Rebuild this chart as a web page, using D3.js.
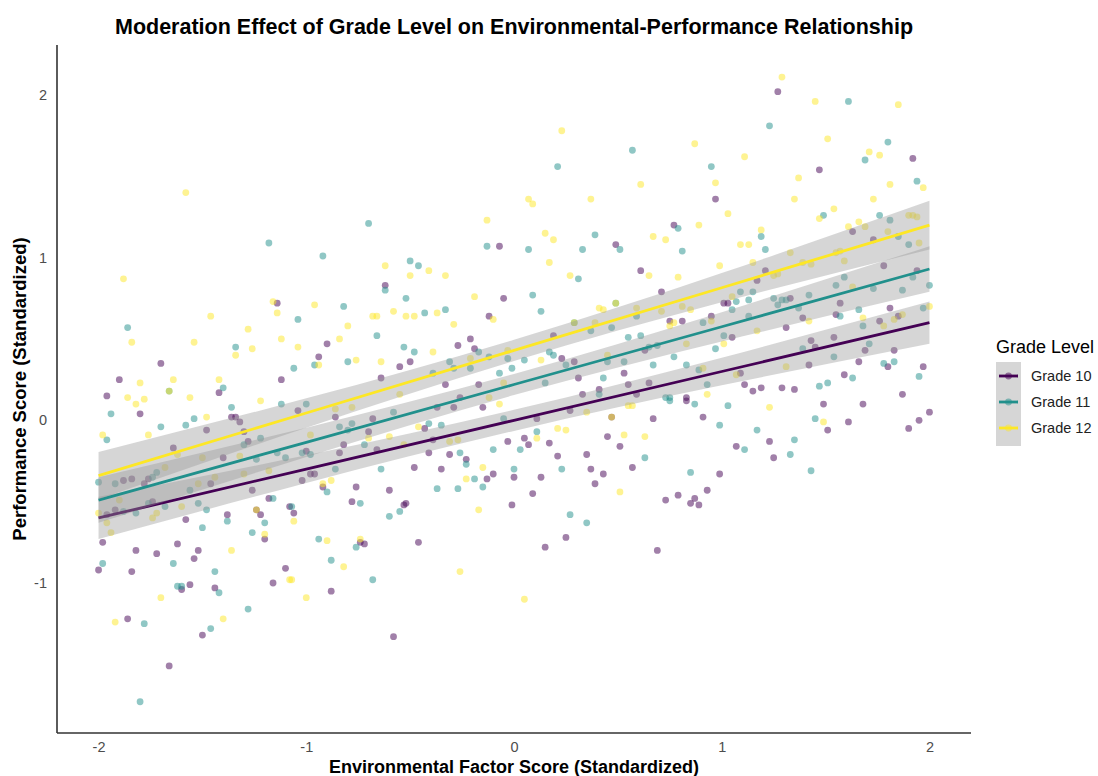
<!DOCTYPE html>
<html>
<head>
<meta charset="utf-8">
<script src="https://cdn.jsdelivr.net/npm/d3@7"></script>
<style>
    body { margin: 0; background: #ffffff; }
    svg { display: block; font-family: "Liberation Sans", Arial, sans-serif; }
</style>
</head>
<body>
<svg id="chart" width="1098" height="776"></svg>
<script>
// Groups
const grades = ["Grade 10", "Grade 11", "Grade 12"];
const gradeColors = ["#440154", "#21908C", "#FDE725"];

// Tick labels
const xTicks = [-2, -1, 0, 1, 2];
const yTicks = [-1, 0, 1, 2];

// Points [environmental, performance]
const grade10Points = [
    [-1.14, 0.72], [-1.70, 0.35], [-1.90, 0.25], [-1.12, 0.25], [-1.42, 0.17], [-1.96, 0.15],
    [-1.80, 0.04], [-1.36, 0.02], [-1.34, 0.02], [-1.32, -0.01], [-1.48, -0.06], [-1.30, -0.07],
    [-1.28, -0.13], [-1.64, -0.17], [-1.40, -0.23], [-1.88, -0.37], [-1.84, -0.36], [-1.78, -0.39],
    [-1.76, -0.36], [-1.46, -0.39], [-1.26, -0.43], [-1.74, -0.50], [-1.92, -0.55], [-1.96, -0.58],
    [-1.58, -0.61], [-1.38, -0.58], [-1.24, -0.55], [-1.22, -0.58], [-1.18, -0.48], [-1.08, -0.53],
    [-1.20, -0.73], [-1.98, -0.75], [-1.62, -0.76], [-1.82, -0.80], [-1.72, -0.82], [-1.52, -0.80],
    [-1.54, -0.85], [-2.00, -0.92], [-1.84, -0.93], [-1.60, -1.04], [-1.56, -1.01], [-1.44, -1.03],
    [-1.10, -0.91], [-1.16, -1.00], [-1.86, -1.22], [-1.50, -1.32], [-1.66, -1.51],
    [-0.07, 1.07], [-0.62, 0.83], [-0.05, 0.75], [-0.12, 0.64], [-0.21, 0.50], [-0.90, 0.47],
    [-0.27, 0.46], [-0.19, 0.44], [-0.94, 0.39], [-0.55, 0.33], [-0.50, 0.36], [-0.64, 0.26],
    [-0.33, 0.22], [-0.17, 0.22], [-0.26, 0.14],
    [-1.04, 0.06], [-0.86, 0.02], [-0.70, -0.07], [-0.68, 0.01], [-0.37, 0.08], [-0.29, 0.08],
    [-0.15, 0.08], [-0.43, -0.05], [-0.82, -0.15], [-0.84, -0.20], [-0.66, -0.18], [-0.39, -0.12],
    [-0.03, -0.13], [-1.00, -0.19], [-0.41, -0.20], [-0.31, -0.21], [-0.23, -0.24], [-0.48, -0.29],
    [-0.35, -0.30], [-0.98, -0.33], [-0.96, -0.33], [-1.02, -0.37], [-0.92, -0.41], [-0.76, -0.41],
    [-0.60, -0.43], [-0.13, -0.36], [-0.10, -0.33], [0.00, -0.35], [-0.78, -0.50], [-0.01, -0.52],
    [-0.53, -0.52], [-0.52, -0.51], [-1.06, -0.57], [-0.74, -0.75], [-0.72, -0.76], [-0.46, -0.75],
    [-0.88, -1.05], [-0.58, -1.33],
    [0.97, 1.36], [0.77, 1.20], [0.49, 1.08], [0.61, 0.92], [0.71, 0.79], [1.01, 0.72],
    [1.03, 0.72], [0.19, 0.52], [0.75, 0.61], [0.81, 0.61], [0.95, 0.64], [1.05, 0.51],
    [0.23, 0.38], [0.29, 0.36], [0.63, 0.43], [1.09, 0.29], [1.11, 0.22], [0.31, 0.26],
    [0.53, 0.29], [0.55, 0.22], [0.65, 0.23], [0.33, 0.16], [0.41, 0.19], [0.59, 0.16], [0.83, 0.14],
    [0.27, 0.06], [0.11, 0.01], [0.47, 0.02], [0.67, 0.01], [0.91, 0.02], [0.05, -0.11],
    [0.07, -0.15], [0.17, -0.14], [0.45, -0.10], [0.51, -0.16], [1.07, -0.16], [0.21, -0.22],
    [0.35, -0.21], [0.37, -0.30], [0.43, -0.33], [0.39, -0.39], [0.57, -0.29], [0.99, -0.33],
    [0.13, -0.35], [0.09, -0.45], [0.93, -0.43], [0.73, -0.49], [0.79, -0.46], [0.87, -0.48],
    [0.85, -0.51], [0.89, -0.52], [0.25, -0.72], [0.15, -0.78], [0.69, -0.80], [0.83, 0.12],
    [1.27, 2.02], [1.92, 1.61], [1.47, 1.54], [1.63, 1.16], [1.73, 1.11], [1.21, 0.92],
    [1.17, 0.86], [1.78, 0.95], [1.94, 0.92], [1.33, 0.75], [1.57, 0.72], [1.81, 0.69],
    [1.39, 0.63], [1.55, 0.65], [1.76, 0.61], [1.85, 0.64], [1.31, 0.57], [1.43, 0.49],
    [1.45, 0.45], [1.54, 0.51], [1.69, 0.43], [1.83, 0.43], [1.42, 0.34], [1.66, 0.36],
    [1.80, 0.33], [1.97, 0.33], [1.59, 0.28], [1.29, 0.20], [1.35, 0.19], [1.15, 0.18],
    [1.19, 0.20], [1.87, 0.16], [1.49, 0.10], [1.68, 0.10], [1.51, -0.06], [1.61, -0.01],
    [1.90, -0.05], [1.95, 0.00], [2.00, 0.05], [1.23, -0.13], [1.25, -0.23]
];

const grade11Points = [
    [-1.18, 1.09], [-1.86, 0.57], [-1.34, 0.45], [-1.40, 0.20], [-1.66, 0.18],
    [-1.94, 0.04], [-1.96, -0.12], [-1.70, -0.04], [-1.58, -0.03], [-1.54, 0.01], [-1.36, 0.08],
    [-1.12, 0.10], [-1.30, -0.15], [-1.22, -0.11], [-1.24, -0.24], [-1.14, -0.20], [-1.10, -0.23],
    [-1.72, -0.32], [-1.92, -0.39], [-1.74, -0.35], [-2.00, -0.38], [-1.56, -0.43], [-1.76, -0.51],
    [-1.68, -0.53], [-1.52, -0.51], [-1.48, -0.55], [-1.88, -0.56], [-1.82, -0.57], [-1.38, -0.62],
    [-1.20, -0.63], [-1.16, -0.48], [-1.50, -0.66], [-1.26, -0.69], [-1.64, -0.88], [-1.98, -0.88],
    [-1.44, -0.93], [-1.62, -1.02], [-1.60, -1.02], [-1.42, -1.06], [-1.28, -1.16], [-1.78, -1.25],
    [-1.46, -1.28], [-1.80, -1.73],
    [-0.70, 1.21], [-0.13, 1.07], [-0.92, 1.01], [-0.50, 0.98], [-0.46, 0.95], [-0.62, 0.80],
    [-0.52, 0.75], [-0.82, 0.70], [-1.04, 0.62], [-0.43, 0.66], [-0.33, 0.68], [-0.66, 0.52],
    [-0.53, 0.45], [-0.17, 0.42], [-0.48, 0.42], [-1.06, 0.32], [-0.96, 0.34], [-0.80, 0.36],
    [-0.31, 0.36], [-0.29, 0.32], [-0.21, 0.32], [-0.12, 0.39], [-0.03, 0.38], [-0.01, 0.32],
    [-0.39, 0.29], [-0.07, 0.29],
    [-1.00, 0.10], [-0.84, -0.04], [-0.78, -0.02], [-0.80, -0.06], [-0.58, 0.05], [-0.05, 0.01],
    [-0.41, -0.02], [-0.35, -0.03], [-0.72, -0.15], [-1.02, -0.20], [-0.98, -0.21], [-0.26, -0.20],
    [-0.23, -0.27], [-0.10, -0.18], [0.03, -0.18], [-0.86, -0.30], [-0.64, -0.30], [0.00, -0.30],
    [-0.90, -0.44], [-0.19, -0.36], [-0.37, -0.42], [-0.27, -0.42], [-0.15, -0.41], [-0.74, -0.51],
    [-0.55, -0.56], [-0.60, -0.59], [-1.07, -0.53], [-0.94, -0.73], [-0.76, -0.78], [-0.88, -0.86],
    [-0.68, -0.98],
    [0.57, 1.66], [0.21, 1.56], [0.95, 1.56], [0.79, 1.18], [0.39, 1.14], [0.07, 1.05],
    [0.33, 1.05], [0.51, 1.05], [0.81, 1.04], [0.31, 0.87], [0.09, 0.77], [0.13, 0.67],
    [1.09, 0.79], [0.49, 0.72], [0.59, 0.64], [1.07, 0.73], [1.05, 0.68], [0.29, 0.60],
    [0.37, 0.55], [0.47, 0.57], [0.91, 0.60], [1.13, 0.64], [0.55, 0.51], [0.61, 0.52],
    [1.01, 0.52], [0.05, 0.37], [0.17, 0.42], [0.19, 0.40], [0.25, 0.34], [0.45, 0.36],
    [0.53, 0.36], [0.65, 0.45], [0.69, 0.46], [0.77, 0.39], [0.97, 0.44], [0.67, 0.34],
    [0.83, 0.34], [0.89, 0.31], [0.15, 0.23], [0.43, 0.26], [0.93, 0.22], [0.41, 0.16],
    [0.73, 0.14], [0.75, 0.14],
    [0.75, 0.12], [0.87, 0.10], [1.03, 0.09], [0.99, -0.03], [0.11, -0.07], [1.11, -0.18],
    [0.63, -0.23], [0.23, -0.30], [0.85, -0.32], [0.27, -0.58], [0.35, -0.63],
    [1.61, 1.96], [1.23, 1.81], [1.80, 1.71], [1.69, 1.60], [1.94, 1.47], [1.49, 1.26],
    [1.76, 1.26], [1.81, 1.23], [1.85, 1.13], [1.19, 1.13], [1.21, 1.05], [1.90, 1.08],
    [1.92, 0.88], [1.59, 0.88], [1.55, 0.83], [1.73, 0.81], [1.87, 0.80], [2.00, 0.83],
    [1.15, 0.79], [1.13, 0.74], [1.25, 0.75], [1.29, 0.74], [1.31, 0.74], [1.42, 0.77],
    [1.37, 0.69], [1.27, 0.71], [1.66, 0.68], [1.97, 0.69], [1.57, 0.64], [1.68, 0.58],
    [1.39, 0.44], [1.71, 0.47], [1.54, 0.39], [1.78, 0.35], [1.83, 0.36], [1.95, 0.27],
    [1.63, 0.26], [1.47, 0.21], [1.51, 0.23],
    [1.45, 0.01], [1.17, -0.06], [1.35, -0.12], [1.33, -0.21], [1.43, -0.31]
];

const grade12Points = [
    [-1.58, 1.40], [-1.88, 0.87], [-1.16, 0.73], [-1.14, 0.66], [-1.46, 0.64], [-1.28, 0.56],
    [-1.84, 0.48], [-1.54, 0.48], [-1.12, 0.50], [-1.34, 0.40], [-1.26, 0.44], [-1.80, 0.23],
    [-1.64, 0.25], [-1.42, 0.25], [-1.66, 0.18], [-1.86, 0.14], [-1.78, 0.13], [-1.56, 0.14],
    [-1.22, 0.12],
    [-1.82, 0.10], [-1.98, -0.09], [-1.76, -0.09], [-1.48, 0.02], [-1.62, -0.21], [-1.50, -0.23],
    [-1.32, -0.22], [-1.68, -0.29], [-1.30, -0.33], [-1.18, -0.31], [-1.52, -0.39], [-1.44, -0.35],
    [-1.90, -0.49], [-1.60, -0.53], [-2.00, -0.57], [-1.72, -0.57], [-1.74, -0.60], [-1.24, -0.55],
    [-1.96, -0.63], [-1.94, -0.69], [-1.20, -0.70], [-1.36, -0.80], [-1.08, -0.98], [-1.70, -1.09],
    [-1.92, -1.24], [-1.40, -1.22],
    [-0.13, 1.23], [-0.62, 0.95], [-0.41, 0.92], [-0.50, 0.89], [-0.33, 0.89], [-0.19, 0.76],
    [-0.96, 0.71], [-0.68, 0.64], [-0.66, 0.64], [-0.58, 0.67], [-0.52, 0.64], [-0.48, 0.64],
    [-0.37, 0.66], [-0.10, 0.62], [-0.80, 0.58], [-0.29, 0.59], [-0.84, 0.50], [-1.04, 0.45],
    [-0.39, 0.42], [-0.76, 0.37], [-0.94, 0.34], [-0.64, 0.36], [-0.21, 0.38], [-0.03, 0.43],
    [-0.05, 0.23], [-0.55, 0.16], [-0.12, 0.14],
    [-0.86, 0.07], [-0.78, 0.08], [-0.70, -0.11], [-0.60, -0.10], [-0.07, 0.10], [-0.46, -0.04],
    [-0.98, -0.09], [-0.53, -0.15], [-0.31, -0.13], [-0.27, -0.12], [-0.15, -0.29], [-0.92, -0.39],
    [-0.88, -0.37], [-0.23, -0.36], [-0.17, -0.55], [-1.06, -0.62], [-0.90, -0.74], [-0.74, -0.73],
    [-0.82, -0.90], [-0.26, -0.93], [-1.07, -0.98], [-1.00, -1.09],
    [0.23, 1.78], [0.87, 1.70], [1.11, 1.62], [0.97, 1.46], [0.61, 1.45], [0.07, 1.36],
    [0.09, 1.33], [0.37, 1.36], [1.03, 1.27], [0.89, 1.20], [0.15, 1.15], [0.19, 1.11],
    [0.67, 1.13], [0.73, 1.11], [1.09, 1.08], [1.13, 1.08], [0.17, 0.97], [0.27, 0.89],
    [0.65, 0.89], [0.79, 0.88], [0.99, 0.95], [0.49, 0.72], [0.41, 0.69], [0.43, 0.68],
    [0.59, 0.69], [0.71, 0.67], [0.81, 0.70], [0.85, 0.68], [1.05, 0.76], [0.29, 0.60],
    [0.39, 0.60], [0.75, 0.58], [0.77, 0.60], [0.95, 0.61], [1.01, 0.47], [0.13, 0.37],
    [0.45, 0.40], [0.83, 0.47], [0.91, 0.32], [1.07, 0.28], [0.93, 0.16],
    [0.35, 0.05], [0.47, 0.02], [0.55, 0.09], [0.57, 0.09], [0.21, -0.05], [0.25, -0.06],
    [0.11, -0.11], [0.53, -0.09], [0.63, -0.10], [0.51, -0.44], [0.05, -1.10],
    [1.29, 2.11], [1.45, 1.96], [1.85, 1.94], [1.51, 1.73], [1.71, 1.65], [1.76, 1.63],
    [1.37, 1.49], [1.81, 1.45], [1.97, 1.43], [1.35, 1.36], [1.73, 1.36], [1.54, 1.30],
    [1.47, 1.24], [1.90, 1.26], [1.92, 1.26], [1.94, 1.25], [1.61, 1.19], [1.66, 1.22],
    [1.69, 1.19], [1.80, 1.16], [1.19, 1.17], [1.95, 1.09], [1.33, 1.03], [1.55, 1.03],
    [1.57, 1.04], [1.15, 0.97], [1.39, 0.97], [1.43, 0.96], [1.59, 0.98], [1.25, 0.89],
    [1.27, 0.90], [1.63, 0.82], [2.00, 0.70], [1.42, 0.61], [1.68, 0.63], [1.78, 0.58],
    [1.83, 0.62], [1.87, 0.65], [1.17, 0.55], [1.31, 0.33], [1.23, 0.08], [1.49, -0.01]
];

// Fitted lines and confidence bands, read at these x positions
const fitX = [-2, -1, 0, 1, 2];
const grade10Fit = [-0.60, -0.30, 0.00, 0.30, 0.60];
const grade10Lower = [-0.73, -0.385, -0.065, 0.215, 0.47];
const grade10Upper = [-0.47, -0.215, 0.065, 0.385, 0.73];
const grade11Fit = [-0.49, -0.135, 0.22, 0.575, 0.93];
const grade11Lower = [-0.63, -0.225, 0.155, 0.485, 0.79];
const grade11Upper = [-0.35, -0.045, 0.285, 0.665, 1.07];
const grade12Fit = [-0.34, 0.045, 0.43, 0.815, 1.20];
const grade12Lower = [-0.485, -0.045, 0.365, 0.725, 1.05];
const grade12Upper = [-0.195, 0.135, 0.495, 0.905, 1.35];

const pointSets = [grade10Points, grade11Points, grade12Points];
const fits = [grade10Fit, grade11Fit, grade12Fit];
const lowers = [grade10Lower, grade11Lower, grade12Lower];
const uppers = [grade10Upper, grade11Upper, grade12Upper];

const svg = d3.select("#chart");

const x = d3.scaleLinear().domain([-2.2, 2.2]).range([57, 971]);
const y = d3.scaleLinear().domain([-1.922, 2.307]).range([733, 45]);

// Points
pointSets.forEach((pts, i) => {
    svg.append("g")
        .selectAll("circle")
        .data(pts)
        .enter()
        .append("circle")
        .attr("cx", (d) => x(d[0]))
        .attr("cy", (d) => y(d[1]))
        .attr("r", 3.4)
        .attr("fill", gradeColors[i])
        .attr("fill-opacity", 0.5);
});

// Bands + lines, group by group
const area = d3.area()
    .x((d) => x(d.x))
    .y0((d) => y(d.lo))
    .y1((d) => y(d.hi))
    .curve(d3.curveNatural);

const line = d3.line()
    .x((d) => x(d.x))
    .y((d) => y(d.fit));

grades.forEach((g, i) => {
    const rows = fitX.map((v, j) => ({ x: v, fit: fits[i][j], lo: lowers[i][j], hi: uppers[i][j] }));
    svg.append("path")
        .datum(rows)
        .attr("d", area)
        .attr("fill", "#999999")
        .attr("fill-opacity", 0.4);
    svg.append("path")
        .datum(rows)
        .attr("d", line)
        .attr("fill", "none")
        .attr("stroke", gradeColors[i])
        .attr("stroke-width", 2.8);
});

// Axes
const xAxis = svg.append("g")
    .attr("transform", "translate(0,733)")
    .call(d3.axisBottom(x).tickValues(xTicks).tickSize(0).tickPadding(9).tickFormat((d) => String(d)));
const yAxis = svg.append("g")
    .attr("transform", "translate(57,0)")
    .call(d3.axisLeft(y).tickValues(yTicks).tickSize(0).tickPadding(10).tickFormat((d) => String(d)));

[xAxis, yAxis].forEach((a) => {
    a.select(".domain").remove();
    a.selectAll("text")
        .attr("fill", "#4d4d4d")
        .style("font-size", "14.5px")
        .style("font-family", "Liberation Sans, Arial, sans-serif");
});

svg.append("line")
    .attr("x1", 57).attr("x2", 971).attr("y1", 733).attr("y2", 733)
    .attr("stroke", "#333333").attr("stroke-width", 1.6);
svg.append("line")
    .attr("x1", 57).attr("x2", 57).attr("y1", 45).attr("y2", 733)
    .attr("stroke", "#333333").attr("stroke-width", 1.6);

// Title and axis titles
svg.append("text")
    .attr("x", 514).attr("y", 34)
    .attr("text-anchor", "middle")
    .style("font-size", "21.5px")
    .style("font-weight", "bold")
    .text("Moderation Effect of Grade Level on Environmental-Performance Relationship");

svg.append("text")
    .attr("x", 514).attr("y", 773)
    .attr("text-anchor", "middle")
    .style("font-size", "18px")
    .style("font-weight", "bold")
    .text("Environmental Factor Score (Standardized)");

svg.append("text")
    .attr("transform", "translate(26,389) rotate(-90)")
    .attr("text-anchor", "middle")
    .style("font-size", "18.5px")
    .style("font-weight", "bold")
    .text("Performance Score (Standardized)");

// Legend
const legend = svg.append("g").attr("transform", "translate(996,0)");
legend.append("text")
    .attr("x", 0).attr("y", 353)
    .style("font-size", "18px")
    .text("Grade Level");
legend.append("rect")
    .attr("x", 0).attr("y", 362)
    .attr("width", 25).attr("height", 84)
    .attr("fill", "#999999").attr("fill-opacity", 0.4);

grades.forEach((g, i) => {
    const cy = 376 + i * 26;
    legend.append("line")
        .attr("x1", 3).attr("x2", 22).attr("y1", cy).attr("y2", cy)
        .attr("stroke", gradeColors[i]).attr("stroke-width", 2.8);
    legend.append("circle")
        .attr("cx", 12.5).attr("cy", cy).attr("r", 3.4)
        .attr("fill", gradeColors[i]).attr("fill-opacity", 0.5);
    legend.append("text")
        .attr("x", 35).attr("y", cy + 5)
        .style("font-size", "14.5px")
        .attr("fill", "#222222")
        .text(g);
});
</script>
</body>
</html>
